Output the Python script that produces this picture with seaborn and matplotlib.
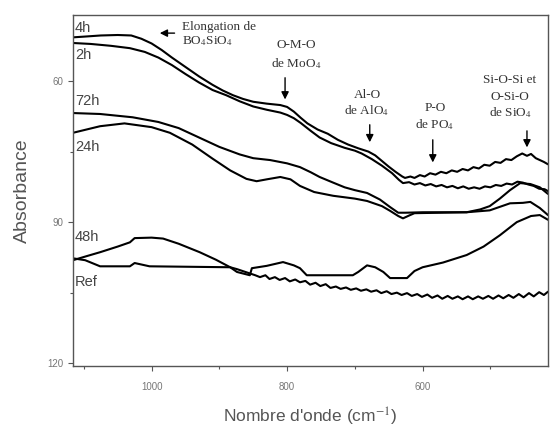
import seaborn as sns
import pandas as pd
import matplotlib.pyplot as plt
from matplotlib.ticker import MultipleLocator

# Spectra (wavenumber cm-1, absorbance)
wn_4h = [1116, 1095, 1075, 1050, 1030, 1015, 1000, 985, 970, 950, 930, 910, 895, 880, 865, 850,
         830, 810, 800, 790, 780, 770, 755, 740, 725, 710, 695, 680, 670, 660, 650, 640, 630,
         626, 618, 612, 604, 597, 589, 581, 573, 565, 557, 549,
         541, 533, 525, 517, 509, 501, 493, 485, 477, 469, 461, 453, 446, 440, 433, 427, 421, 415]
ab_4h = [50.7, 50.5, 50.3, 50.2, 50.3, 51.0, 52.0, 53.4, 55.0, 57.0, 59.0, 60.8, 62.0, 63.0, 63.8, 64.4,
         64.8, 65.1, 65.5, 66.5, 67.8, 69.0, 70.3, 71.2, 72.5, 73.5, 74.3, 75.0, 75.8, 77.0, 78.2, 79.3, 80.3,
         80.6, 80.3, 80.6, 80.0, 80.3, 79.6, 79.9, 79.3, 79.6, 79.0, 79.3,
         78.7, 79.0, 78.3, 78.6, 77.8, 78.0, 77.2, 77.4, 76.6, 76.8, 76.0, 75.4, 75.9, 75.5, 76.4, 76.8, 77.2, 77.7]

wn_2h = [1116, 1090, 1060, 1032, 1010, 990, 970, 950, 930, 910, 890, 870, 850, 830, 810, 800,
         790, 780, 765, 752, 735, 715, 700, 690, 675, 660, 645, 635, 629,
         620, 612, 604, 596, 588, 580, 572, 564, 556, 548, 540, 532, 524, 516, 508, 500, 492,
         484, 476, 468, 460, 452, 444, 436, 428, 420, 415]
ab_2h = [51.9, 52.1, 52.5, 53.0, 53.8, 55.0, 56.6, 58.5, 60.3, 61.9, 63.0, 64.3, 65.4, 66.1, 66.7, 67.2,
         67.9, 68.9, 70.6, 72.0, 73.2, 74.2, 74.8, 75.4, 76.6, 78.0, 79.6, 81.0, 81.7,
         81.5, 82.0, 81.7, 82.2, 81.9, 82.4, 82.1, 82.6, 82.3, 82.8, 82.4, 82.9, 82.6, 82.9, 82.4, 82.6, 82.1,
         82.3, 81.8, 82.0, 81.4, 81.6, 82.0, 82.3, 82.9, 83.0, 83.4]

wn_72h = [1116, 1076, 1028, 990, 960, 930, 900, 870, 850, 825, 800, 781, 765, 752, 732, 715,
          700, 682, 663, 648, 636, 625, 600, 560, 535, 515, 501, 486, 471, 456, 441, 427, 415]
ab_72h = [66.8, 67.0, 67.7, 68.7, 70.0, 72.0, 74.0, 75.6, 76.4, 76.8, 77.5, 78.3, 79.4, 80.4, 81.6, 82.6,
          83.2, 83.8, 85.2, 86.8, 88.0, 88.0, 87.9, 87.9, 87.9, 87.3, 86.6, 85.0, 83.2, 81.7, 81.9, 82.6, 84.0]

wn_24h = [1116, 1076, 1040, 1000, 973, 940, 910, 884, 860, 845, 830, 810, 795, 781, 760, 732,
          700, 682, 660, 648, 636, 629, 620, 612, 535, 501, 471, 452, 441, 427, 415]
ab_24h = [71.0, 69.6, 69.0, 69.8, 71.0, 73.5, 76.5, 79.0, 80.8, 81.3, 80.9, 80.4, 80.9, 82.3, 83.6, 84.4,
          85.0, 85.5, 86.6, 87.6, 88.7, 89.2, 88.6, 88.1, 87.9, 87.5, 86.0, 85.9, 85.7, 87.0, 88.5]

wn_48h = [1116, 1095, 1076, 1050, 1032, 1025, 1000, 983, 960, 929, 905, 884, 874, 855, 852, 830,
          806, 790, 781, 771, 703, 695, 682, 670, 658, 648, 623, 612, 600, 570, 535, 510,
          486, 470, 461, 440, 427, 415]
ab_48h = [98.1, 97.2, 96.4, 95.2, 94.3, 93.4, 93.3, 93.5, 94.6, 96.4, 98.0, 99.6, 100.6, 101.3, 99.8, 99.3,
          98.5, 99.2, 99.8, 101.3, 101.3, 100.6, 99.2, 99.6, 100.6, 101.9, 101.9, 100.4, 99.6, 98.6, 97.0, 95.2,
          92.8, 91.0, 90.0, 88.7, 88.5, 89.5]

wn_ref = [1116, 1098, 1076, 1032, 1025, 1003, 884, 874, 847,
          840, 832, 826, 818, 811, 803, 796, 788, 781, 773, 766, 758, 751, 743, 736, 728,
          721, 713, 706, 698, 691, 683, 676, 668, 661, 653, 646, 638, 631, 623, 616, 608,
          601, 593, 586, 578, 571, 563, 556, 548, 541, 533, 526, 518, 511, 503, 496, 488,
          481, 473, 466, 458, 451, 443, 436, 428, 421, 415]
ab_ref = [97.7, 98.1, 99.4, 99.4, 98.7, 99.4, 99.6, 100.0, 101.3,
          101.7, 101.3, 102.1, 101.7, 102.3, 101.9, 102.6, 102.2, 102.8, 102.5, 103.3, 102.9, 103.6, 103.2, 104.0, 103.7,
          104.2, 103.9, 104.4, 104.1, 104.6, 104.3, 104.8, 104.5, 105.1, 104.7, 105.3, 105.0, 105.5, 105.1, 105.7, 105.3,
          105.9, 105.4, 106.1, 105.6, 106.3, 105.7, 106.3, 105.8, 106.4, 105.8, 106.4, 105.8, 106.3, 105.7, 106.3, 105.6,
          106.2, 105.5, 106.1, 105.3, 106.0, 105.1, 105.8, 104.9, 105.5, 104.8]

series = {"4h": (wn_4h, ab_4h), "2h": (wn_2h, ab_2h), "72h": (wn_72h, ab_72h),
          "24h": (wn_24h, ab_24h), "48h": (wn_48h, ab_48h), "Ref": (wn_ref, ab_ref)}

# label positions for each curve name
label_y = {"4h": 48.7, "2h": 54.5, "72h": 64.3, "24h": 74.0, "48h": 93.2, "Ref": 102.8}

frames = []
for name, (wn, ab) in series.items():
    frames.append(pd.DataFrame({"wn": wn, "ab": ab, "serie": name}))
df = pd.concat(frames, ignore_index=True)

sns.set_style("ticks")
plt.rcParams["font.family"] = ["Liberation Sans", "DejaVu Sans"]
plt.rcParams["mathtext.fontset"] = "stix"

fig = plt.figure(figsize=(5.5, 4.28), dpi=100)
ax = fig.add_axes([0.1327, 0.1449, 0.8636, 0.820])

sns.lineplot(data=df, x="wn", y="ab", units="serie", estimator=None, sort=False,
             color="black", linewidth=1.5, ax=ax)

ax.set_xlim(1116, 415)
ax.set_ylim(120.6, 45.95)
ax.xaxis.set_major_locator(MultipleLocator(200))
ax.xaxis.set_minor_locator(MultipleLocator(100))
ax.yaxis.set_major_locator(MultipleLocator(30))
ax.yaxis.set_minor_locator(MultipleLocator(15))
ax.tick_params(which="major", length=3.5, width=0.8, color="#555555", labelsize=7, labelcolor="#777777")
ax.tick_params(axis="x", which="major", pad=8)
ax.tick_params(which="minor", length=2, width=0.8, color="#555555")
for sp in ax.spines.values():
    sp.set_color("#555555")
    sp.set_linewidth(1.0)

ax.set_xlabel("Nombre d'onde (cm$^{-1}$)", fontsize=12.5, color="#555555", labelpad=10)
ax.set_ylabel("Absorbance", fontsize=14, color="#555555", labelpad=12)

for name, y in label_y.items():
    ax.text(1113, y, name, fontsize=10.5, color="#444444", ha="left", va="center")

serif = dict(family=["Liberation Serif", "DejaVu Serif"], fontsize=9.5, color="#333333", ha="center", va="center")
arrow = dict(arrowstyle="-|>", color="black", lw=1.0, mutation_scale=11)

ax.annotate("", xy=(992, 49.8), xytext=(962, 49.8), arrowprops=arrow)
ax.text(955, 48.5, "Elongation de", **dict(serif, ha="left"))
ax.text(955, 51.5, "BO$_4$SiO$_4$", **dict(serif, ha="left"))

ax.text(786, 52.3, "O-M-O", **serif)
ax.text(786, 56.2, "de MoO$_4$", **serif)
ax.annotate("", xy=(803, 64.5), xytext=(803, 58.7), arrowprops=arrow)

ax.text(682, 63.0, "Al-O", **serif)
ax.text(682, 66.2, "de AlO$_4$", **serif)
ax.annotate("", xy=(678, 73.6), xytext=(678, 68.7), arrowprops=arrow)

ax.text(582, 65.7, "P-O", **serif)
ax.text(582, 69.2, "de PO$_4$", **serif)
ax.annotate("", xy=(585, 77.9), xytext=(585, 71.9), arrowprops=arrow)

ax.text(471, 59.8, "Si-O-Si et", **serif)
ax.text(471, 63.3, "O-Si-O", **serif)
ax.text(471, 66.8, "de SiO$_4$", **serif)
ax.annotate("", xy=(446, 74.7), xytext=(446, 70.0), arrowprops=arrow)

fig.savefig("out.png", dpi=100)
